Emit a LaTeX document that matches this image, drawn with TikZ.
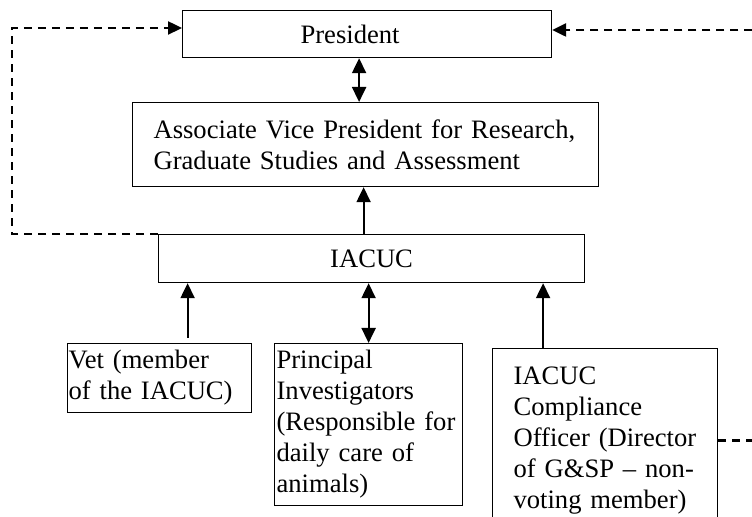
\documentclass[tikz,border=0pt]{standalone}
\usepackage{fontspec}
\setmainfont{Liberation Serif}
\usetikzlibrary{arrows.meta}

\begin{document}
\begin{tikzpicture}[x=0.5pt,y=-0.5pt,
    box/.style={draw,line width=0.6pt,anchor=north west,inner ysep=0pt,
        font=\fontsize{13.3pt}{15.5pt}\selectfont},
    link/.style={line width=1pt,-{Triangle[length=7.5pt,width=7pt]}},
    both/.style={line width=1pt,{Triangle[length=7.5pt,width=7pt]}-{Triangle[length=7.5pt,width=7pt]}},
    dashlink/.style={line width=1.2pt,dash pattern=on 4pt off 3pt,-{Triangle[length=7pt,width=6.5pt]}}]
    \path[use as bounding box,clip] (0,0) rectangle (752,517);
    % top of the chart
    \node[box,align=left,text width=66.5pt,inner xsep=59pt,minimum height=23.5pt] (pres) at (182,10) {President};
    \node[box,align=left,text width=212pt,inner xsep=10.5pt,minimum height=42pt] (avp) at (132,102)
        {Associate Vice President for Research,\\ Graduate Studies and Assessment};
    \node[box,align=center,text width=209pt,inner xsep=2pt,minimum height=24pt] (iacuc) at (158,234) {IACUC};
    % bottom row
    \node[box,align=left,text width=91pt,inner xsep=0.5pt,minimum height=34.5pt] (vet) at (67,343)
        {Vet (member\\ of the IACUC)};
    \node[box,align=left,text width=92pt,inner xsep=1pt,minimum height=81pt] (pi) at (274,343)
        {Principal\\ Investigators\\ (Responsible for\\ daily care of\\ animals)};
    \node[box,align=left,text width=91.5pt,inner xsep=10.5pt,minimum height=92pt] (comp) at (492,348)
        {IACUC\\ Compliance\\ Officer (Director\\ of G\&SP -- non-\\ voting member)};

    \coordinate (presdown) at ([xshift=-4pt]pres.south);
    \coordinate (iacucup) at ([xshift=-4pt]iacuc.north);
    \coordinate (vetup) at ([xshift=14pt,yshift=2.5pt]vet.north);
    \coordinate (compup) at ([xshift=-31pt]comp.north);
    \draw[both] (presdown) -- (presdown |- avp.north);
    \draw[link] (iacucup) -- (iacucup |- avp.south);
    \draw[link] (vetup) -- (vetup |- iacuc.south);
    \draw[both] (pi.north) -- (pi.north |- iacuc.south);
    \draw[link] (compup) -- (compup |- iacuc.south);

    % dashed report lines
    \coordinate (lcorner) at (12,28);
    \coordinate (rcorner) at (775,30);
    \draw[dashlink] (iacuc.north west) -| (lcorner) -- (lcorner -| pres.west);
    \draw[dashlink] (comp.east) -| (rcorner) -- (rcorner -| pres.east);
\end{tikzpicture}
\end{document}
